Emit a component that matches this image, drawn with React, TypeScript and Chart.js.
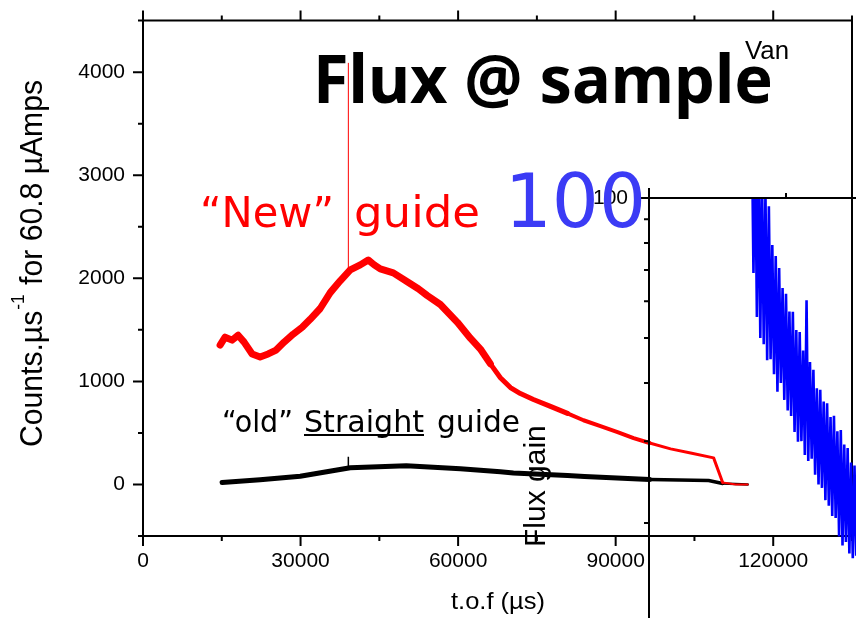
import { useEffect, useRef } from 'react';
import { Chart, registerables } from 'chart.js';

Chart.register(...registerables);

// ---- time-of-flight spectra (t.o.f in µs, counts per µs for 60.8 µAmps) ----
const newGuideTof = [14680, 15630, 16970, 18110, 19250, 20780, 22300, 23830, 25350, 26880, 28590, 30310, 31830, 33740, 35650, 37550, 39460, 41370, 42890, 44030, 45180, 47660, 50320, 52420, 54140, 56620, 59860, 62330, 64240, 66150, 68050, 69960, 71860, 74340, 77580, 80820, 83870, 87110, 90360, 93410, 96460, 100460, 104270, 108650, 110370, 112850, 115140];
const newGuideCounts = [1352, 1429, 1400, 1448, 1381, 1266, 1237, 1266, 1304, 1381, 1458, 1525, 1602, 1707, 1861, 1976, 2082, 2130, 2178, 2130, 2091, 2053, 1967, 1899, 1832, 1746, 1573, 1419, 1314, 1170, 1036, 940, 882, 824, 757, 690, 623, 565, 508, 450, 402, 345, 306, 258, 18, 0, 0];

// single hot channel in the new-guide spectrum
const newGuideSpikeTof = [39100, 39100];
const newGuideSpikeCounts = [2070, 4090];

const oldGuideTof = [15060, 22300, 29930, 39460, 50130, 60430, 68050, 70530, 80820, 84060, 96460, 107700, 110370, 115140];
const oldGuideCounts = [18, 45, 80, 162, 181, 153, 124, 112, 86, 77, 48, 38, 10, 0];

const oldGuideSpikeTof = [39100, 39100];
const oldGuideSpikeCounts = [158, 268];

// ---- flux gain (new / old), noisy channel-by-channel ratio ----
const gainTof = [
  95000, 95250, 95500, 95750, 96000, 96250, 96500, 96750, 97000, 97250,
  97500, 97750, 98000, 98250, 98500, 98750, 99000, 99250, 99500, 99750,
  100000, 100250, 100500, 100750, 101000, 101250, 101500, 101750, 102000, 102250,
  102500, 102750, 103000, 103250, 103500, 103750, 104000, 104250, 104500, 104750,
  105000, 105250, 105500, 105750, 106000, 106250, 106500, 106750, 107000, 107250,
  107500, 107750, 108000, 108250, 108500, 108750, 109000, 109250, 109500, 109750,
  110000, 110250, 110500, 110750, 111000, 111250, 111500, 111750,
];
const gainRatio = [
  147, 69.0, 133, 55.5, 121, 50.0, 112, 48.5, 103, 44.8,
  96, 45.0, 79.2, 41.8, 75.0, 38.3, 70.7, 40.0, 64, 36.8,
  62.2, 34.9, 57, 34.0, 56.9, 31.4, 52, 29.9, 51.5, 30.0,
  47, 28.0, 60.3, 27.2, 44.4, 27.5, 42.7, 25.4, 39, 24.2,
  38.7, 23.8, 36.5, 22.4, 36.2, 21.8, 33.8, 20.7, 34.0, 20.5,
  31.5, 18.7, 31.7, 17.9, 29.5, 18.2, 29.0, 17.2, 27.0, 16.8,
  26.6, 17.0, 24.8, 16.2, 24.1, 15.8, 23.0, 15.4,
];

// ---- axis tick labels ----
const tofTickLabels = [0, 30000, 60000, 90000, 120000];
const countTickLabels = [0, 1000, 2000, 3000, 4000];
const gainTickLabels = [10, 100];

const INSET_LEFT = 480;
const INSET_TOP = 150;

const pts = (xs: number[], ys: number[]) => xs.map((x, i) => ({ x, y: ys[i] }));

function fillFitted(ctx: CanvasRenderingContext2D, text: string, x: number, y: number, width: number) {
  const w = ctx.measureText(text).width;
  ctx.save();
  ctx.translate(x, y);
  ctx.scale(width / w, 1);
  ctx.fillText(text, 0, 0);
  ctx.restore();
}

const tickFont = { family: '"Liberation Sans", Arial, sans-serif', size: 21 };

// frame, minor/major ticks and annotations of the spectrum plot
const spectrumDecor = {
  id: 'spectrumDecor',
  afterDraw(chart: any) {
    const { ctx, chartArea: a } = chart;
    const xs = chart.scales.x;
    const ys = chart.scales.y;
    ctx.save();
    ctx.strokeStyle = '#000';
    ctx.lineWidth = 2;
    ctx.beginPath();
    ctx.moveTo(a.left - 1, a.top);
    ctx.lineTo(a.right + 1, a.top);
    ctx.moveTo(a.right, a.top);
    ctx.lineTo(a.right, a.bottom + 1);
    for (let v = 0; v <= 135000; v += 15000) {
      const px = xs.getPixelForValue(v);
      const len = v % 30000 === 0 ? 10 : 5;
      ctx.moveTo(px, a.bottom);
      ctx.lineTo(px, a.bottom + len);
      ctx.moveTo(px, a.top);
      ctx.lineTo(px, a.top - len);
    }
    for (let v = -500; v <= 4500; v += 500) {
      const py = ys.getPixelForValue(v);
      const len = v % 1000 === 0 ? 10 : 5;
      ctx.moveTo(a.left, py);
      ctx.lineTo(a.left - len, py);
    }
    ctx.stroke();

    ctx.textAlign = 'left';
    ctx.textBaseline = 'alphabetic';

    ctx.fillStyle = '#000';
    ctx.font = 'bold 67px "Noto Sans", sans-serif';
    fillFitted(ctx, 'Flux @ sample', 313, 103, 460);
    ctx.font = '25px "Liberation Sans", sans-serif';
    fillFitted(ctx, 'Van', 745, 59, 44);

    ctx.fillStyle = '#ff0000';
    ctx.font = '43px "DejaVu Sans", sans-serif';
    fillFitted(ctx, '\u201CNew\u201D', 200, 227, 134);
    fillFitted(ctx, 'guide', 354, 227, 126);

    ctx.fillStyle = '#000';
    ctx.font = '30px "DejaVu Sans", sans-serif';
    fillFitted(ctx, '\u201Cold\u201D', 222, 432, 71);
    fillFitted(ctx, 'Straight', 304, 432, 120);
    ctx.fillRect(304, 434, 120, 2);
    fillFitted(ctx, 'guide', 437, 432, 83);

    // x axis title
    ctx.font = '24px "Liberation Sans", sans-serif';
    fillFitted(ctx, 't.o.f (\u00B5s)', 451, 609, 94);

    // y axis title with superscript
    const mainFont = '31px "Liberation Sans", sans-serif';
    const supFont = '18px "Liberation Sans", sans-serif';
    ctx.font = mainFont;
    const w1 = ctx.measureText('Counts.\u00B5s').width;
    const w3 = ctx.measureText(' for 60.8 \u00B5Amps').width;
    ctx.font = supFont;
    const w2 = ctx.measureText('-1').width + 2;
    const k = 367 / (w1 + w2 + w3);
    ctx.save();
    ctx.translate(42, 447);
    ctx.rotate(-Math.PI / 2);
    ctx.scale(k, 1);
    ctx.font = mainFont;
    ctx.fillText('Counts.\u00B5s', 0, 0);
    ctx.font = supFont;
    ctx.fillText('-1', w1 + 1, -18);
    ctx.font = mainFont;
    ctx.fillText(' for 60.8 \u00B5Amps', w1 + w2, 0);
    ctx.restore();

    ctx.restore();
  },
};

// frame, ticks, title and value label of the flux-gain inset
const gainDecor = {
  id: 'gainDecor',
  afterDraw(chart: any) {
    const { ctx, chartArea: a } = chart;
    const xs = chart.scales.x;
    const ys = chart.scales.y;
    ctx.save();
    ctx.strokeStyle = '#000';
    ctx.lineWidth = 2;
    ctx.beginPath();
    ctx.moveTo(a.left - 1, a.top);
    ctx.lineTo(a.right, a.top);
    for (let v = 80000; v <= 130000; v += 20000) {
      const px = xs.getPixelForValue(v);
      const len = v % 40000 === 0 ? 10 : 5;
      ctx.moveTo(px, a.top);
      ctx.lineTo(px, a.top - len);
    }
    for (let v = 10; v <= 100; v += 10) {
      const py = ys.getPixelForValue(v);
      const len = v === 10 || v === 100 ? 8 : 5;
      ctx.moveTo(a.left, py);
      ctx.lineTo(a.left - len, py);
    }
    ctx.stroke();

    ctx.fillStyle = '#000';
    ctx.font = '30px "Liberation Sans", sans-serif';
    ctx.textAlign = 'left';
    ctx.textBaseline = 'alphabetic';
    ctx.save();
    ctx.translate(545 - INSET_LEFT, 547 - INSET_TOP);
    ctx.rotate(-Math.PI / 2);
    ctx.fillText('Flux gain', 0, 0);
    ctx.restore();

    ctx.fillStyle = '#3b3bf5';
    ctx.font = '74px "DejaVu Sans", sans-serif';
    ctx.textAlign = 'right';
    ctx.fillText('100', 646 - INSET_LEFT, 227 - INSET_TOP);
    ctx.restore();
  },
};

export default function App() {
  const mainRef = useRef<HTMLCanvasElement | null>(null);
  const insetRef = useRef<HTMLCanvasElement | null>(null);

  useEffect(() => {
    if (!mainRef.current || !insetRef.current) return;

    const redWidth = (ctx: any) => {
      const x = ctx.p0.parsed.x;
      if (x < 66000) return 7;
      if (x < 80000) return 5;
      if (x < 96000) return 4;
      if (x < 108700) return 3;
      return 2;
    };
    const blackWidth = (ctx: any) => {
      const x = ctx.p0.parsed.x;
      if (x < 96000) return 5;
      if (x < 108000) return 3.5;
      return 2.5;
    };

    const spectrum = new Chart(mainRef.current, {
      type: 'line',
      data: {
        datasets: [
          {
            label: '"New" guide',
            data: pts(newGuideTof, newGuideCounts),
            borderColor: '#ff0000',
            borderWidth: 7,
            borderCapStyle: 'round',
            borderJoinStyle: 'round',
            segment: { borderWidth: redWidth },
            pointRadius: 0,
            fill: false,
          },
          {
            label: 'new spike',
            data: pts(newGuideSpikeTof, newGuideSpikeCounts),
            borderColor: '#ff0000',
            borderWidth: 1,
            pointRadius: 0,
            fill: false,
          },
          {
            label: '"old" Straight guide',
            data: pts(oldGuideTof, oldGuideCounts),
            borderColor: '#000000',
            borderWidth: 5,
            borderCapStyle: 'round',
            borderJoinStyle: 'round',
            segment: { borderWidth: blackWidth },
            pointRadius: 0,
            fill: false,
          },
          {
            label: 'old spike',
            data: pts(oldGuideSpikeTof, oldGuideSpikeCounts),
            borderColor: '#000000',
            borderWidth: 1.5,
            pointRadius: 0,
            fill: false,
          },
        ],
      } as any,
      options: {
        responsive: false,
        animation: false,
        devicePixelRatio: 1,
        layout: { padding: { top: 15, right: 4, bottom: 0, left: 0 } },
        plugins: { legend: { display: false }, tooltip: { enabled: false } },
        scales: {
          x: {
            type: 'linear',
            min: 0,
            max: 135000,
            afterFit: (s: any) => { s.height = 82; },
            grid: { display: false, drawTicks: true, tickLength: 10 },
            border: { display: true, color: '#000', width: 2 },
            ticks: {
              stepSize: 15000,
              autoSkip: false,
              maxRotation: 0,
              padding: 3,
              color: '#000',
              font: tickFont,
              callback: (v: any) => (tofTickLabels.includes(Number(v)) ? String(v) : ''),
            },
          },
          y: {
            type: 'linear',
            min: -500,
            max: 4500,
            afterFit: (s: any) => { s.width = 143; },
            grid: { display: false, drawTicks: true, tickLength: 10 },
            border: { display: true, color: '#000', width: 2 },
            ticks: {
              stepSize: 500,
              autoSkip: false,
              padding: 8,
              color: '#000',
              font: tickFont,
              callback: (v: any) => (countTickLabels.includes(Number(v)) ? String(v) : ''),
            },
          },
        },
      } as any,
      plugins: [spectrumDecor],
    });

    const gain = new Chart(insetRef.current, {
      type: 'line',
      data: {
        datasets: [
          {
            label: 'Flux gain',
            data: pts(gainTof, gainRatio),
            borderColor: '#0000ff',
            borderWidth: 2.6,
            borderJoinStyle: 'miter',
            pointRadius: 0,
            fill: false,
          },
        ],
      } as any,
      options: {
        responsive: false,
        animation: false,
        devicePixelRatio: 1,
        layout: { padding: { top: 48, right: 8.5, bottom: 47, left: 0 } },
        plugins: { legend: { display: false }, tooltip: { enabled: false } },
        scales: {
          x: { type: 'linear', min: 80000, max: 130000, display: false },
          y: {
            type: 'logarithmic',
            min: 10,
            max: 100,
            afterFit: (s: any) => { s.width = 169; },
            grid: { display: false, drawTicks: true, tickLength: 8 },
            border: { display: true, color: '#000', width: 2 },
            ticks: {
              autoSkip: false,
              padding: 13,
              color: '#000',
              font: tickFont,
              callback: (v: any) => (gainTickLabels.includes(Number(v)) ? String(v) : ''),
            },
          },
        },
      } as any,
      plugins: [gainDecor],
    });

    return () => {
      spectrum.destroy();
      gain.destroy();
    };
  }, []);

  return (
    <div
      style={{
        position: 'fixed',
        left: 0,
        top: 0,
        width: 856,
        height: 618,
        overflow: 'hidden',
        background: '#fff',
      }}
    >
      <canvas
        ref={mainRef}
        width={856}
        height={618}
        style={{ position: 'absolute', left: 0, top: 0, width: 856, height: 618 }}
      />
      <canvas
        ref={insetRef}
        width={520}
        height={560}
        style={{ position: 'absolute', left: INSET_LEFT, top: INSET_TOP, width: 520, height: 560 }}
      />
    </div>
  );
}
